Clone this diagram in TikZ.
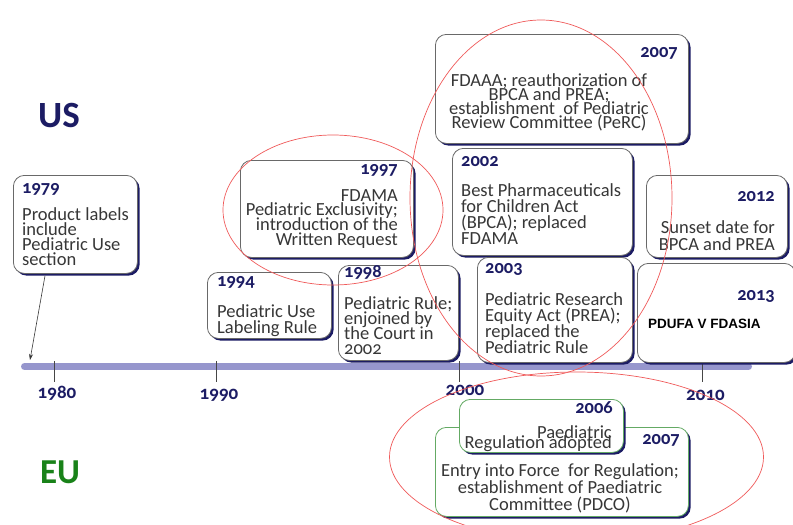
\documentclass[tikz,border=0pt]{standalone}
\usepackage{fontspec}
\setmainfont{Carlito}[Numbers=OldStyle]
\newfontfamily\arialfont{Liberation Sans}
\usetikzlibrary{shadows,arrows.meta,calc}
\definecolor{navy}{RGB}{28,28,100}
\definecolor{txt}{RGB}{55,55,55}
\definecolor{boxgray}{RGB}{105,105,105}
\definecolor{eugreen}{RGB}{100,170,100}
\definecolor{eulabel}{RGB}{25,130,25}
\definecolor{redline}{RGB}{240,90,90}
\definecolor{barcol}{RGB}{150,150,205}
\definecolor{tickgray}{RGB}{70,70,70}
\newcommand\tightlines{\lineskiplimit=-100pt\relax\lineskip=0pt\relax}
\tikzset{
  box/.style={draw=boxgray, line width=0.8pt, fill=white, rounded corners=11pt,
    inner sep=0pt, anchor=north west,
    drop shadow={shadow xshift=2.2pt, shadow yshift=-2.2pt, fill=navy, opacity=1}},
  eubox/.style={box, draw=eugreen},
  year/.style={text=navy, inner sep=0pt, font=\bfseries\fontsize{18.5}{18.5}\selectfont},
  axislabel/.style={text=navy, inner sep=0pt, anchor=base, font=\bfseries\fontsize{19}{19}\selectfont},
  body/.style={text=txt, inner sep=0pt, font=\fontsize{18.5}{#1}\selectfont\tightlines},
  body/.default=15.5,
  ticks/.style={draw=tickgray, line width=1pt},
  ring/.style={draw=redline, line width=0.7pt},
  arr/.style={draw=txt, line width=0.6pt, -{Stealth[length=6pt,width=4pt]}},
}
\begin{document}
\begin{tikzpicture}[x=1pt,y=-1pt]
\useasboundingbox (0,0) rectangle (793,525);
\fill[white] (0,0) rectangle (793,525);

% region labels
\node[anchor=base, inner sep=0pt, text=navy, font=\bfseries\fontsize{37}{37}\selectfont] (us) at (59,127) {US};
\node[anchor=base, inner sep=0pt, text=eulabel, font=\bfseries\fontsize{35}{35}\selectfont] (eu) at (60,483) {EU};

% timeline bar and ticks
\coordinate (barL) at (24.5,366.5);
\coordinate (barR) at (748.5,366.5);
\draw[barcol, line width=7pt, line cap=round] (barL) -- (barR);
\foreach \x/\n in {54/1980,216/1990,459/2000,702/2010}{
  \coordinate (tt\n) at (\x,361);
  \coordinate (tb\n) at (\x,382);
  \draw[ticks] (tt\n) -- (tb\n);
}
\node[axislabel] (l1980) at (57,398.5) {1980};
\node[axislabel] (l1990) at (219,399) {1990};
\node[axislabel] (l2000) at (465,395) {2000};
\node[axislabel] (l2010) at (705.5,400) {2010};

% US boxes
\node[box, minimum width=124pt, minimum height=98pt] (b1979) at (13,175) {};
\node[year, anchor=base west] (y1979) at (22,193) {1979};
\node[body=15.3, anchor=north west, align=left] (t1979) at (22,207) {Product labels\\include\\Pediatric Use\\section};

\node[box, minimum width=124pt, minimum height=66pt] (b1994) at (207,272) {};
\node[year, anchor=base west] (y1994) at (217,286) {1994};
\node[body=16.5, anchor=north west, align=left] (t1994) at (217,304) {Pediatric Use\\Labeling Rule};

\node[box, minimum width=173pt, minimum height=97pt] (b1997) at (240,160) {};
\node[year, anchor=base east] (y1997) at (398,174.5) {1997};
\node[body=14.7, anchor=north east, align=right] (t1997) at (398,189) {FDAMA\\Pediatric Exclusivity;\\introduction of the\\Written Request};

\node[box, minimum width=120pt, minimum height=95pt] (b1998) at (338,265) {};
\node[year, anchor=base west] (y1998) at (344,277) {1998};
\node[body=15.3, anchor=north west, align=left] (t1998) at (344,296) {Pediatric Rule;\\enjoined by\\the Court in\\2002};

\node[box, minimum width=253pt, minimum height=109pt] (b2007us) at (435,34) {};
\node[year, anchor=base east] (y2007us) at (678,57) {2007};
\node[body=14.3, anchor=north, align=center] (t2007us) at (549,73) {FDAAA; reauthorization of\\BPCA and PREA;\\establishment\ \ of Pediatric\\Review Committee (PeRC)};

\node[box, minimum width=180pt, minimum height=107pt] (b2002) at (452,148) {};
\node[year, anchor=base west] (y2002) at (461,166) {2002};
\node[body=16, anchor=north west, align=left] (t2002) at (461,183) {Best Pharmaceuticals\\for Children Act\\(BPCA); replaced\\FDAMA};

\node[box, minimum width=155pt, minimum height=105pt] (b2003) at (477,257) {};
\node[year, anchor=base west] (y2003) at (485,273.6) {2003};
\node[body=16, anchor=north west, align=left] (t2003) at (485,292) {Pediatric Research\\Equity Act (PREA);\\replaced the\\Pediatric Rule};

\node[box, minimum width=141pt, minimum height=82pt] (b2012) at (646,175) {};
\node[year, anchor=base east] (y2012) at (775,201) {2012};
\node[body=17, anchor=north east, align=right] (t2012) at (775,220) {Sunset date for\\BPCA and PREA};

\node[box, minimum width=158pt, minimum height=99pt] (b2013) at (637,263) {};
\node[year, anchor=base east] (y2013) at (775,300) {2013};
\node[anchor=base west, inner sep=0pt, text=black, font=\arialfont\bfseries\fontsize{13.5}{13.5}\selectfont] (t2013) at (648,328) {PDUFA V FDASIA};

% arrow from 1979 box to the timeline
\coordinate (a1979) at (30,360);
\draw[arr] ($(b1979.south west)+(32,2)$) -- (a1979);

% EU boxes
\node[eubox, minimum width=253pt, minimum height=89pt] (b2007eu) at (435,427) {};
\node[year, anchor=base east] (y2007eu) at (680,444) {2007};
\node[body=17, anchor=north, align=center] (t2007eu) at (560,463) {Entry into Force\ \ for Regulation;\\establishment of Paediatric\\Committee (PDCO)};

\node[eubox, minimum width=164pt, minimum height=53pt] (b2006) at (459,399) {};
\node[year, anchor=base east] (y2006) at (613,413) {2006};
\node[body=10.5, anchor=north east, align=right] (t2006) at (612,425) {Paediatric\\Regulation adopted};

% red ellipses
\draw[ring] (333,210) ellipse [x radius=110pt, y radius=75pt];
\draw[ring] (541,198) ellipse [x radius=131pt, y radius=178pt];
\draw[ring] (576.5,457) ellipse [x radius=187pt, y radius=85pt];
\end{tikzpicture}
\end{document}
